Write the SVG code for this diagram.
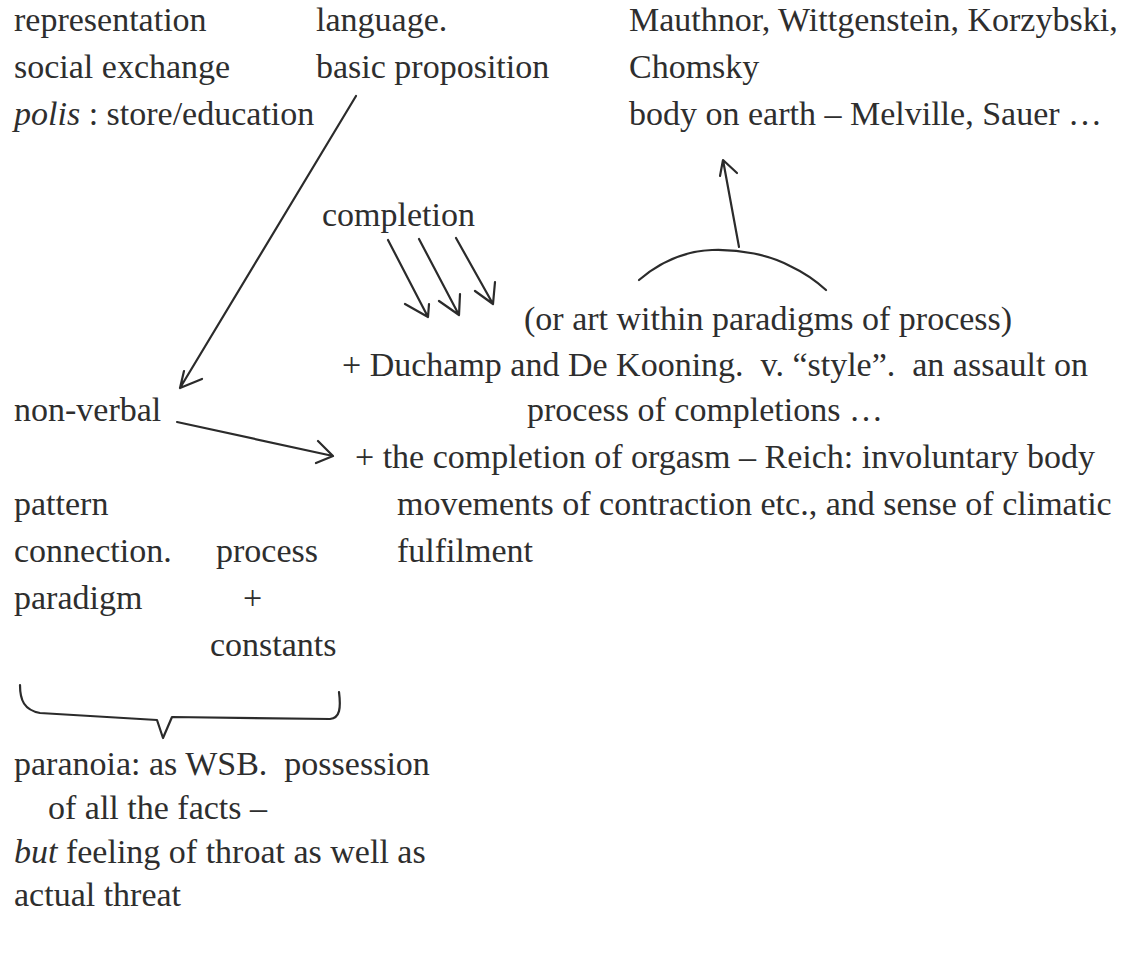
<svg xmlns="http://www.w3.org/2000/svg" width="1126" height="954" viewBox="0 0 1126 954">
<style>
text{font-family:"Liberation Serif","Times New Roman",serif;font-size:34px;fill:#2e2e2e;white-space:pre}
.it{font-style:italic}
.ink{fill:none;stroke:#2b2b2b;stroke-width:2.2;stroke-linecap:round;stroke-linejoin:round}
</style>
<rect width="1126" height="954" fill="#ffffff"/>
<g id="n-left-top">
<text x="14" y="31">representation</text>
<text x="14" y="78">social exchange</text>
<text x="14" y="125"><tspan class="it">polis</tspan> : store/education</text>
</g>
<g id="n-language">
<text x="316" y="31">language.</text>
<text x="316" y="78">basic proposition</text>
</g>
<g id="n-names">
<text x="629" y="31">Mauthnor, Wittgenstein, Korzybski,</text>
<text x="629" y="78">Chomsky</text>
<text x="629" y="125">body on earth – Melville, Sauer …</text>
</g>
<g id="n-completion">
<text x="322" y="226">completion</text>
</g>
<g id="n-art">
<text x="524" y="330">(or art within paradigms of process)</text>
<text x="342" y="376" xml:space="preserve">+ Duchamp and De Kooning.  v. “style”.  an assault on</text>
<text x="527" y="421">process of completions …</text>
<text x="355" y="468">+ the completion of orgasm – Reich: involuntary body</text>
<text x="397" y="515">movements of contraction etc., and sense of climatic</text>
<text x="397" y="562">fulfilment</text>
</g>
<g id="n-nonverbal">
<text x="14" y="421">non-verbal</text>
</g>
<g id="n-pattern">
<text x="14" y="515">pattern</text>
<text x="14" y="562">connection.</text>
<text x="14" y="609">paradigm</text>
</g>
<g id="n-process">
<text x="216" y="562">process</text>
<text x="243" y="609">+</text>
<text x="210" y="656">constants</text>
</g>
<g id="n-paranoia">
<text x="14" y="775" xml:space="preserve">paranoia: as WSB.  possession</text>
<text x="48" y="819">of all the facts –</text>
<text x="14" y="863"><tspan class="it">but</tspan> feeling of throat as well as</text>
<text x="14" y="906">actual threat</text>
</g>
<g id="connectors">
<path class="ink" d="M356 96 L180 388 M184 371 L180 388 L202 379"/>
<path class="ink" d="M388 240 L428 317 M405 304 L428 317 L429 304"/>
<path class="ink" d="M419 239 L459 315 M439 301 L459 315 L460 294"/>
<path class="ink" d="M456 238 L493 304 M475 291 L493 304 L495 282"/>
<path class="ink" d="M739 247 L723 160 M720 176 L723 160 L737 173"/>
<path class="ink" d="M639 280 C660 262 685 251 712 250 C740 249 770 255 790 266 C805 273 815 280 826 290"/>
<path class="ink" d="M177 422 L333 456 M318 441 L333 456 L316 463"/>
<path class="ink" d="M20 685 C20 700 24 710 40 713 L157 720 L163 738 L172 717 L330 719 C340 718 341 708 339 692"/>
</g>
</svg>
